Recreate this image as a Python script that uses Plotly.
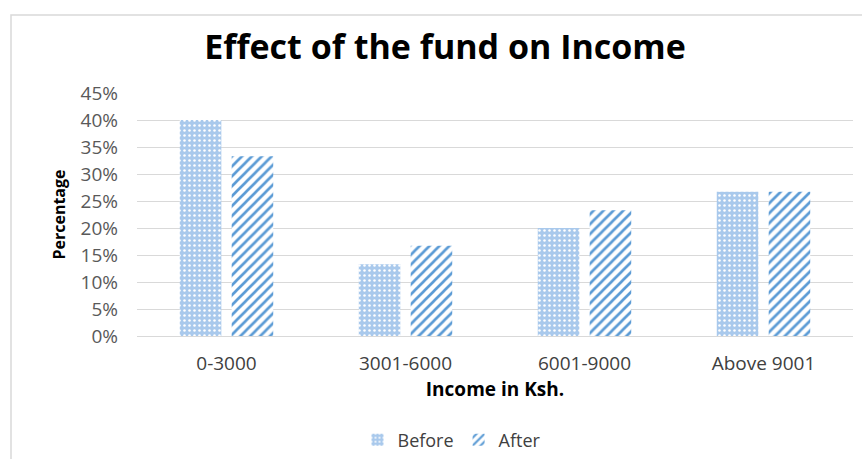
import plotly.graph_objects as go

categories = ["0-3000", "3001-6000", "6001-9000", "Above 9001"]
before = [0.40, 0.133, 0.20, 0.267]
after = [0.333, 0.167, 0.233, 0.267]
y_ticks = [0, 0.05, 0.10, 0.15, 0.20, 0.25, 0.30, 0.35, 0.40, 0.45]

FONT = "Open Sans"
W, H = 862, 459
L, R, T, B = 137, 9, 93, 123
pw, ph = W - L - R, H - T - B

fig = go.Figure()
fig.add_trace(go.Bar(
    name="Before", x=categories, y=before,
    marker=dict(color="#a9c9ec", line=dict(width=0),
                pattern=dict(shape=".", fgcolor="#ffffff", bgcolor="#a9c9ec",
                             size=5, solidity=0.2, fillmode="replace")),
))
fig.add_trace(go.Bar(
    name="After", x=categories, y=after,
    marker=dict(color="#ffffff", line=dict(width=0),
                pattern=dict(shape="/", fgcolor="#5b9bd5", bgcolor="#ffffff",
                             size=7, solidity=0.38, fillmode="replace")),
))

def px_x(p):
    return (p - L) / pw

def px_y(p):
    return (H - B - p) / ph

fig.update_layout(
    width=W, height=H,
    margin=dict(l=L, r=R, t=T, b=B, autoexpand=False),
    paper_bgcolor="white", plot_bgcolor="white",
    barmode="group", bargap=0.42, bargroupgap=0.2,
    title=dict(text="<b>Effect of the fund on Income</b>", x=px_x(445), xref="paper",
               xanchor="center", y=1 - 47 / H, yanchor="middle",
               font=dict(family=FONT, size=34, color="#000000")),
    font=dict(family=FONT, color="#595959"),
    xaxis=dict(
        showgrid=False, showline=True, linecolor="#d9d9d9", linewidth=1,
        ticks="", tickfont=dict(size=19, color="#404040"), ticklabelstandoff=10,
        title=dict(text="<b>Income in Ksh.</b>", font=dict(size=19, color="#000000"), standoff=4),
    ),
    yaxis=dict(
        range=[0, 0.45], tickvals=y_ticks, tickformat=".0%",
        showgrid=True, gridcolor="#d9d9d9", gridwidth=1, zeroline=False,
        ticks="", tickfont=dict(size=19, color="#595959"), ticklabelstandoff=18,
        title=dict(text="<b>Percentage</b>", font=dict(size=16, color="#000000"), standoff=10),
    ),
    legend=dict(orientation="h", xref="container", x=452 / W, xanchor="center",
                yref="container", y=1 - 440 / H, yanchor="middle",
                font=dict(size=18, color="#404040"), itemwidth=30, bgcolor="rgba(0,0,0,0)"),
    shapes=[dict(type="rect", xref="paper", yref="paper",
                 x0=px_x(11), x1=px_x(900), y0=px_y(520), y1=px_y(15),
                 line=dict(color="#d9d9d9", width=1.5), fillcolor="rgba(0,0,0,0)", layer="below")],
)

fig.write_html("out.html")
